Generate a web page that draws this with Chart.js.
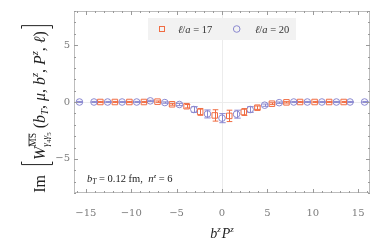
<!DOCTYPE html>
<html><head><meta charset="utf-8">
<script src="https://cdn.jsdelivr.net/npm/chart.js@4"></script>
<style>html,body{margin:0;padding:0;background:#fff}</style>
</head><body>
<canvas id="c" width="382" height="243" style="display:block;width:382px;height:243px"></canvas>
<script>
// ---- data ----
const seriesNames = ['ℓ/a = 17', 'ℓ/a = 20'];
const x17 = [-13.4,-11.8,-10.2,-8.6,-7.1,-5.5,-3.9,-2.4,-0.8,0.8,2.4,3.9,5.5,7.1,8.6,10.2,11.8,13.4];
const y17 = [0,0,0,0,0.03,-0.2,-0.37,-0.87,-1.18,-1.22,-0.88,-0.5,-0.15,-0.03,0,0,0,0];
const e17 = [0.05,0.05,0.05,0.05,0.06,0.08,0.15,0.3,0.5,0.5,0.3,0.15,0.08,0.06,0.05,0.05,0.05,0.05];
const x20 = [-15.7,-14.1,-12.6,-11.0,-9.4,-7.9,-6.3,-4.7,-3.1,-1.6,0,1.6,3.1,4.7,6.3,7.9,9.4,11.0,12.6,14.1,15.7];
const y20 = [0,0,0,0,0,0.1,-0.05,-0.22,-0.66,-1.05,-1.42,-1.07,-0.66,-0.28,-0.06,0,0,0,0,0,0];
const e20 = [0.05,0.05,0.05,0.05,0.05,0.05,0.06,0.1,0.25,0.35,0.4,0.35,0.25,0.1,0.06,0.05,0.05,0.05,0.05,0.05,0.05];
const xMajor = [-15,-10,-5,0,5,10,15];
const yMajor = [-5,0,5];

const C17 = 'rgb(240,108,66)';
const C20 = 'rgb(138,136,208)';
const SERIF = '"Liberation Serif","DejaVu Serif",serif';

function fmt(v){ return v < 0 ? '\u2212' + Math.abs(v) : String(v); }
function pts(xs, ys){ return xs.map((x,i)=>({x:x, y:ys[i]})); }

// ---- rich text helper ----
function setF(ctx,s){ ctx.font = (s.it?'italic ':'') + (s.s||14) + 'px ' + SERIF; }
function segW(ctx,s){
  if (s.br) return 7;
  if (s.stack) return Math.max(runW(ctx,s.stack[0]), runW(ctx,s.stack[1]));
  setF(ctx,s); return ctx.measureText(s.t).width;
}
function runW(ctx,run){ return run.reduce((a,s)=>a+segW(ctx,s),0); }
function drawRun(ctx,run,x,y){
  for (const s of run){
    const w = segW(ctx,s);
    if (s.br){
      ctx.beginPath();
      const xx = s.br==='l' ? x+2 : x+5;
      const d = s.br==='l' ? 3 : -3;
      ctx.moveTo(xx+d+0.5, y-s.up+0.5); ctx.lineTo(xx+0.5, y-s.up+0.5);
      ctx.lineTo(xx+0.5, y+s.dn+0.5); ctx.lineTo(xx+d+0.5, y+s.dn+0.5);
      ctx.lineWidth = 1; ctx.stroke();
    } else if (s.stack){
      drawRun(ctx,s.stack[0],x,y); drawRun(ctx,s.stack[1],x,y);
    } else {
      setF(ctx,s); ctx.fillText(s.t, x, y+(s.dy||0));
      if (s.ol){ ctx.fillRect(x+0.5, y+(s.dy||0)-s.s*0.78, w-1, 0.8); }
    }
    x += w;
  }
}
function drawRich(ctx,run,cx,y){ drawRun(ctx,run,cx-runW(ctx,run)/2,y); }

const M = 16, S = 10.5;
const yTitle = [
  {t:'Im',s:M},{t:'  ',s:M},{br:'l',up:24,dn:7},
  {t:'W',s:M,it:1},
  {stack:[[{t:'MS',s:S-1,dy:-9,ol:1}],[{t:'γ',s:S-1,it:1,dy:4},{t:'4',s:7,dy:6},{t:'γ',s:S-1,it:1,dy:4},{t:'5',s:7,dy:6}]]},
  {t:' (',s:M},{t:'b',s:M,it:1},{t:'T',s:S,it:1,dy:3},{t:', ',s:M},{t:'μ',s:M,it:1},{t:', ',s:M},
  {t:'b',s:M,it:1},{t:'z',s:S,it:1,dy:-7},{t:', ',s:M},{t:'P',s:M,it:1},{t:'z',s:S,it:1,dy:-7},
  {t:', ',s:M},{t:'ℓ',s:M,it:1},{t:')',s:M},{br:'r',up:24,dn:7}
];
const xTitle = [{t:'b',s:14,it:1},{t:'z',s:9,it:1,dy:-6},{t:' ',s:4},{t:'P',s:14,it:1},{t:'z',s:9,it:1,dy:-6}];
const note = [{t:'b',s:10.5,it:1},{t:'T',s:7.5,it:1,dy:2},{t:' = 0.12 fm,  ',s:10.5},{t:'n',s:10.5,it:1},{t:'z',s:7,it:1,dy:-4},{t:' = 6',s:10.5}];
function legendRun(name){
  return name.split('').map(ch => ({t:ch, s:10.5, it: (ch==='ℓ'||ch==='a')?1:0}));
}

const decor = {
  id:'decor',
  afterDatasetsDraw(chart){
    const ctx = chart.ctx, xs = chart.scales.x, ys = chart.scales.y;
    const errs = [e17, e20];
    const cap = [2.8, 3.2];
    ctx.save();
    chart.data.datasets.forEach((ds,di)=>{
      ctx.strokeStyle = ds.borderColor; ctx.lineWidth = 1;
      ds.data.forEach((p,i)=>{
        const px = Math.round(xs.getPixelForValue(p.x))+0.5;
        const p1 = ys.getPixelForValue(p.y+errs[di][i]);
        const p2 = ys.getPixelForValue(p.y-errs[di][i]);
        ctx.beginPath();
        ctx.moveTo(px,p1); ctx.lineTo(px,p2);
        ctx.moveTo(px-cap[di],p1); ctx.lineTo(px+cap[di],p1);
        ctx.moveTo(px-cap[di],p2); ctx.lineTo(px+cap[di],p2);
        ctx.stroke();
      });
    });
    ctx.restore();
  },
  afterDraw(chart){
    const ctx = chart.ctx, a = chart.chartArea, xs = chart.scales.x, ys = chart.scales.y;
    ctx.save();
    // frame
    ctx.strokeStyle = '#bdbdbd'; ctx.lineWidth = 1;
    ctx.strokeRect(a.left+0.5, a.top+0.5, a.right-a.left-1, a.bottom-a.top-1);
    // inside ticks on all sides
    ctx.strokeStyle = '#9a9a9a';
    ctx.beginPath();
    xs.ticks.forEach(t=>{
      const px = Math.round(xs.getPixelForValue(t.value))+0.5;
      const L = (t.value%5===0)?4:2;
      ctx.moveTo(px,a.bottom); ctx.lineTo(px,a.bottom-L);
      ctx.moveTo(px,a.top); ctx.lineTo(px,a.top+L);
    });
    ys.ticks.forEach(t=>{
      const py = Math.round(ys.getPixelForValue(t.value))+0.5;
      const L = (t.value%5===0)?4:2;
      ctx.moveTo(a.left,py); ctx.lineTo(a.left+L,py);
      ctx.moveTo(a.right,py); ctx.lineTo(a.right-L,py);
    });
    ctx.stroke();
    // legend
    ctx.fillStyle = '#f2f2f2';
    ctx.fillRect(148, 18, 148, 22);
    const ly = 29;
    const ds = chart.data.datasets;
    ctx.lineWidth = 1;
    ctx.strokeStyle = ds[0].borderColor;
    ctx.strokeRect(159.5, ly-2.5, 5, 5);
    ctx.strokeStyle = ds[1].borderColor;
    ctx.beginPath(); ctx.arc(236.7, ly, 3.3, 0, Math.PI*2); ctx.stroke();
    ctx.fillStyle = '#333';
    ctx.textBaseline = 'alphabetic';
    drawRun(ctx, legendRun(ds[0].label), 178, ly+3.5);
    drawRun(ctx, legendRun(ds[1].label), 255, ly+3.5);
    // note
    ctx.fillStyle = '#222';
    drawRun(ctx, note, 87, 182);
    // x title
    drawRich(ctx, xTitle, (a.left+a.right)/2, 238);
    // y title
    ctx.translate(45, 108.5);
    ctx.rotate(-Math.PI/2);
    ctx.strokeStyle = '#222';
    drawRich(ctx, yTitle, 0, 0);
    ctx.restore();
  }
};

const tickFont = {family:'"DejaVu Serif",serif', size:10};
new Chart(document.getElementById('c').getContext('2d'), {
  type:'scatter',
  data:{datasets:[
    {label:seriesNames[0], data:pts(x17,y17), pointStyle:'rect', pointRadius:3.9, borderColor:C17, backgroundColor:'rgba(0,0,0,0)', borderWidth:1},
    {label:seriesNames[1], data:pts(x20,y20), pointStyle:'circle', pointRadius:3.3, borderColor:C20, backgroundColor:'rgba(0,0,0,0)', borderWidth:1}
  ]},
  options:{
    responsive:false, animation:false, devicePixelRatio:1,
    layout:{padding:{left:0,right:12,top:11,bottom:0}},
    plugins:{legend:{display:false}, tooltip:{enabled:false}},
    scales:{
      x:{type:'linear', min:-16.3, max:16.3,
        afterFit(s){ s.height = 50; },
        afterBuildTicks(s){ const t=[]; for(let v=-16; v<=16; v++) t.push({value:v}); s.ticks=t; },
        ticks:{autoSkip:false, maxRotation:0, padding:14, font:tickFont, color:'#7c7c7c',
          callback(v){ return xMajor.includes(v) ? fmt(v) : ''; }},
        grid:{drawTicks:false, color:c=> (c.tick && c.tick.value===0) ? '#ececec' : 'rgba(0,0,0,0)'},
        border:{display:false}},
      y:{type:'linear', min:-8, max:8,
        afterFit(s){ s.width = 74; },
        afterBuildTicks(s){ const t=[]; for(let v=-8; v<=8; v++) t.push({value:v}); s.ticks=t; },
        ticks:{autoSkip:false, padding:4, font:tickFont, color:'#7c7c7c',
          callback(v){ return yMajor.includes(v) ? fmt(v) : ''; }},
        grid:{drawTicks:false, color:c=> (c.tick && c.tick.value===0) ? '#ececec' : 'rgba(0,0,0,0)'},
        border:{display:false}}
    }
  },
  plugins:[decor]
});
</script>
</body></html>
